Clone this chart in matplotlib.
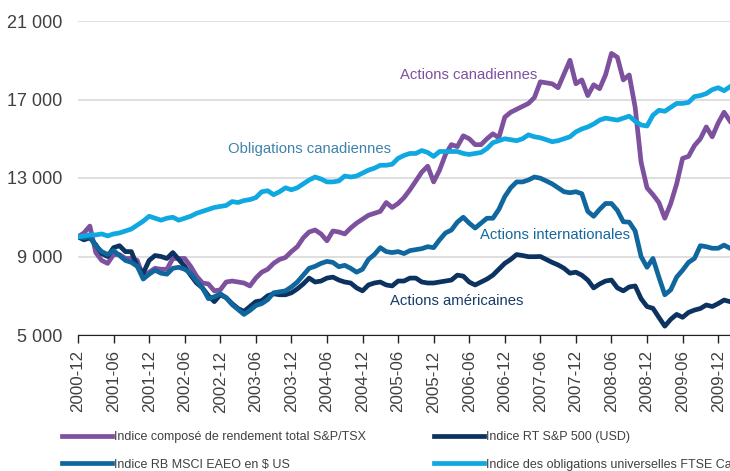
import matplotlib
matplotlib.use('Agg')
import matplotlib.pyplot as plt
import numpy as np
import pandas as pd

plt.rcParams['font.family'] = ['Liberation Sans', 'DejaVu Sans']

# mois de 2000-12 à 2010-02
months = pd.period_range('2000-12', '2010-02', freq='M').strftime('%Y-%m').tolist()

tsx = [10000, 10200, 10550, 9200, 8800, 8650, 9100, 9100, 8900, 8900, 8800, 7950,
       8200, 8400, 8350, 8350, 8900, 8900,
       8900, 8500, 8000, 7650, 7600, 7250,
       7300, 7700, 7750, 7700, 7650, 7500,
       7900, 8200, 8350, 8650, 8850, 8950,
       9250, 9500, 9950, 10250, 10350, 10150,
       9800, 10300, 10250, 10150, 10450, 10700,
       10900, 11100, 11200, 11300, 11750, 11500,
       11700, 12000, 12400, 12850, 13300, 13600,
       12800, 13400, 14200, 14700, 14600, 15150,
       15000, 14700, 14700, 15000, 15250, 15050,
       16100, 16350, 16500, 16650, 16800, 17100,
       17900, 17850, 17800, 17600, 18300, 19000,
       17800, 18000, 17200, 17750, 17550, 18250,
       19350, 19150, 18000, 18250, 16600, 13800,
       12500, 12150, 11750, 10950, 11700, 12700,
       14000, 14100, 14650, 15000, 15600, 15100,
       15800, 16350, 15900]

sp500 = [10000, 9850, 9950, 9600, 9150, 9000, 9450, 9550, 9250, 9250, 8500, 8150,
         8800, 9050, 9000, 8900, 9200, 8850,
         8500, 8050, 7650, 7400, 7000, 6700,
         7050, 6900, 6600, 6350, 6200, 6450,
         6700, 6750, 7000, 7100, 7050, 7050,
         7150, 7350, 7600, 7900, 7700, 7750,
         7900, 7950, 7800, 7700, 7650, 7400,
         7250, 7550, 7650, 7700, 7550, 7500,
         7750, 7750, 7900, 7900, 7700, 7650,
         7650, 7700, 7750, 7800, 8050, 8000,
         7700, 7550, 7700, 7850, 8050, 8350,
         8650, 8850, 9100, 9050, 8990, 8990,
         9000, 8850, 8700, 8570, 8400, 8150,
         8200, 8050, 7800, 7400, 7600, 7750,
         7800, 7400, 7250, 7450, 7500, 6850,
         6450, 6360, 5900, 5450, 5800, 6050,
         5900, 6150, 6270, 6350, 6530, 6450,
         6600, 6780, 6700]

eafe = [10000, 9950, 10010, 9550, 9250, 9100, 9300, 9050, 8800, 8700, 8500, 7850,
        8100, 8300, 8150, 8100, 8400, 8450,
        8350, 8150, 7750, 7400, 6850, 6950,
        7100, 6900, 6550, 6300, 6050, 6250,
        6500, 6600, 6800, 7150, 7200, 7250,
        7450, 7700, 8050, 8400, 8500, 8650,
        8750, 8700, 8480, 8550, 8400, 8200,
        8350, 8850, 9100, 9450, 9250, 9200,
        9250, 9150, 9300, 9350, 9400, 9500,
        9450, 9850, 10200, 10350, 10750, 11000,
        10700, 10450, 10700, 10950, 10950, 11400,
        12050, 12500, 12800, 12800, 12900, 13050,
        12990, 12850, 12700, 12500, 12300, 12250,
        12300, 12200, 11300, 11050, 11400, 11700,
        11700, 11350, 10770, 10750, 10300, 9000,
        8450, 8900, 7950, 7050, 7300, 7950,
        8300, 8700, 8900, 9550, 9500, 9420,
        9420, 9580, 9420]

ftse = [10000, 10050, 10100, 10100, 10150, 10050, 10150, 10200, 10300, 10400, 10600, 10800,
        11050, 10950, 10850, 10950, 11000, 10850,
        10950, 11050, 11200, 11300, 11400, 11500,
        11550, 11600, 11800, 11750, 11850, 11900,
        12000, 12300, 12350, 12150, 12300, 12500,
        12400, 12500, 12700, 12900, 13050, 12950,
        12800, 12800, 12850, 13100, 13050, 13100,
        13250, 13400, 13500, 13650, 13650, 13700,
        14000, 14150, 14250, 14250, 14400, 14300,
        14100, 14350, 14350, 14350, 14350, 14250,
        14200, 14250, 14300, 14500, 14800, 14900,
        15000, 14950, 14900, 15000, 15200, 15100,
        15050, 14950, 14850, 14900, 15000, 15100,
        15350, 15500, 15600, 15750, 15950, 16050,
        16000, 15950, 16050, 16150, 15900, 15700,
        15650, 16200, 16450, 16400, 16600, 16800,
        16800, 16850, 17150, 17200, 17300, 17500,
        17600, 17450, 17650]

labels = ['Indice composé de rendement total S&P/TSX',
          'Indice RT S&P 500 (USD)',
          'Indice RB MSCI EAEO en $ US',
          'Indice des obligations universelles FTSE Canada']
colors = ['#7d519e', '#0c3260', '#0f679e', '#0fa8e0']

fig = plt.figure(figsize=(7.30, 4.71), dpi=100)
ax = fig.add_axes([78 / 730, 136 / 471, 652 / 730, 314 / 471])

x = np.arange(len(months))
lw = 3.4
l_tsx, = ax.plot(x, tsx, color=colors[0], lw=lw, label=labels[0])
l_sp, = ax.plot(x, sp500, color=colors[1], lw=lw, label=labels[1])
l_eafe, = ax.plot(x, eafe, color=colors[2], lw=lw, label=labels[2])
l_ftse, = ax.plot(x, ftse, color=colors[3], lw=lw, label=labels[3])

ax.set_xlim(0, 110)
ax.set_ylim(5000, 21000)
ax.set_yticks([5000, 9000, 13000, 17000, 21000])
ax.set_yticklabels(['{:,}'.format(v).replace(',', ' ') for v in ax.get_yticks()])
ax.set_xticks(x[::6])
ax.set_xticklabels(months[::6], rotation=90)

ax.grid(axis='y', color='#d9d9d9', lw=1.2)
ax.set_axisbelow(True)
for s in ['top', 'right', 'left']:
    ax.spines[s].set_visible(False)
ax.spines['bottom'].set_color('#222222')
ax.spines['bottom'].set_zorder(5)
ax.tick_params(axis='y', length=0, pad=11.5, labelsize=13, labelcolor='#404040')
ax.tick_params(axis='x', length=6, width=1, direction='out', color='#222222',
               pad=5, labelsize=12.2, labelcolor='#404040')

# étiquettes dans le graphique
ax.text(54.3, 18250, 'Actions canadiennes', color='#7d519e', fontsize=10.7, va='center')
ax.text(25.3, 14480, 'Obligations canadiennes', color='#3f82ab', fontsize=10.7, va='center')
ax.text(67.8, 10100, 'Actions internationales', color='#17689c', fontsize=10.7, va='center')
ax.text(52.6, 6730, 'Actions américaines', color='#163c68', fontsize=10.7, va='center')

leg_kw = dict(loc='upper left', frameon=False, fontsize=9, handlelength=4.0,
              handletextpad=0.2, labelspacing=1.25, borderpad=0, borderaxespad=0,
              labelcolor='#404040')
fig.legend([l_tsx, l_eafe], [labels[0], labels[2]], bbox_to_anchor=(62 / 730, 1 - 431 / 471), **leg_kw)
fig.legend([l_sp, l_ftse], [labels[1], labels[3]], bbox_to_anchor=(434 / 730, 1 - 431 / 471), **leg_kw)

plt.savefig('out.png', dpi=100)
